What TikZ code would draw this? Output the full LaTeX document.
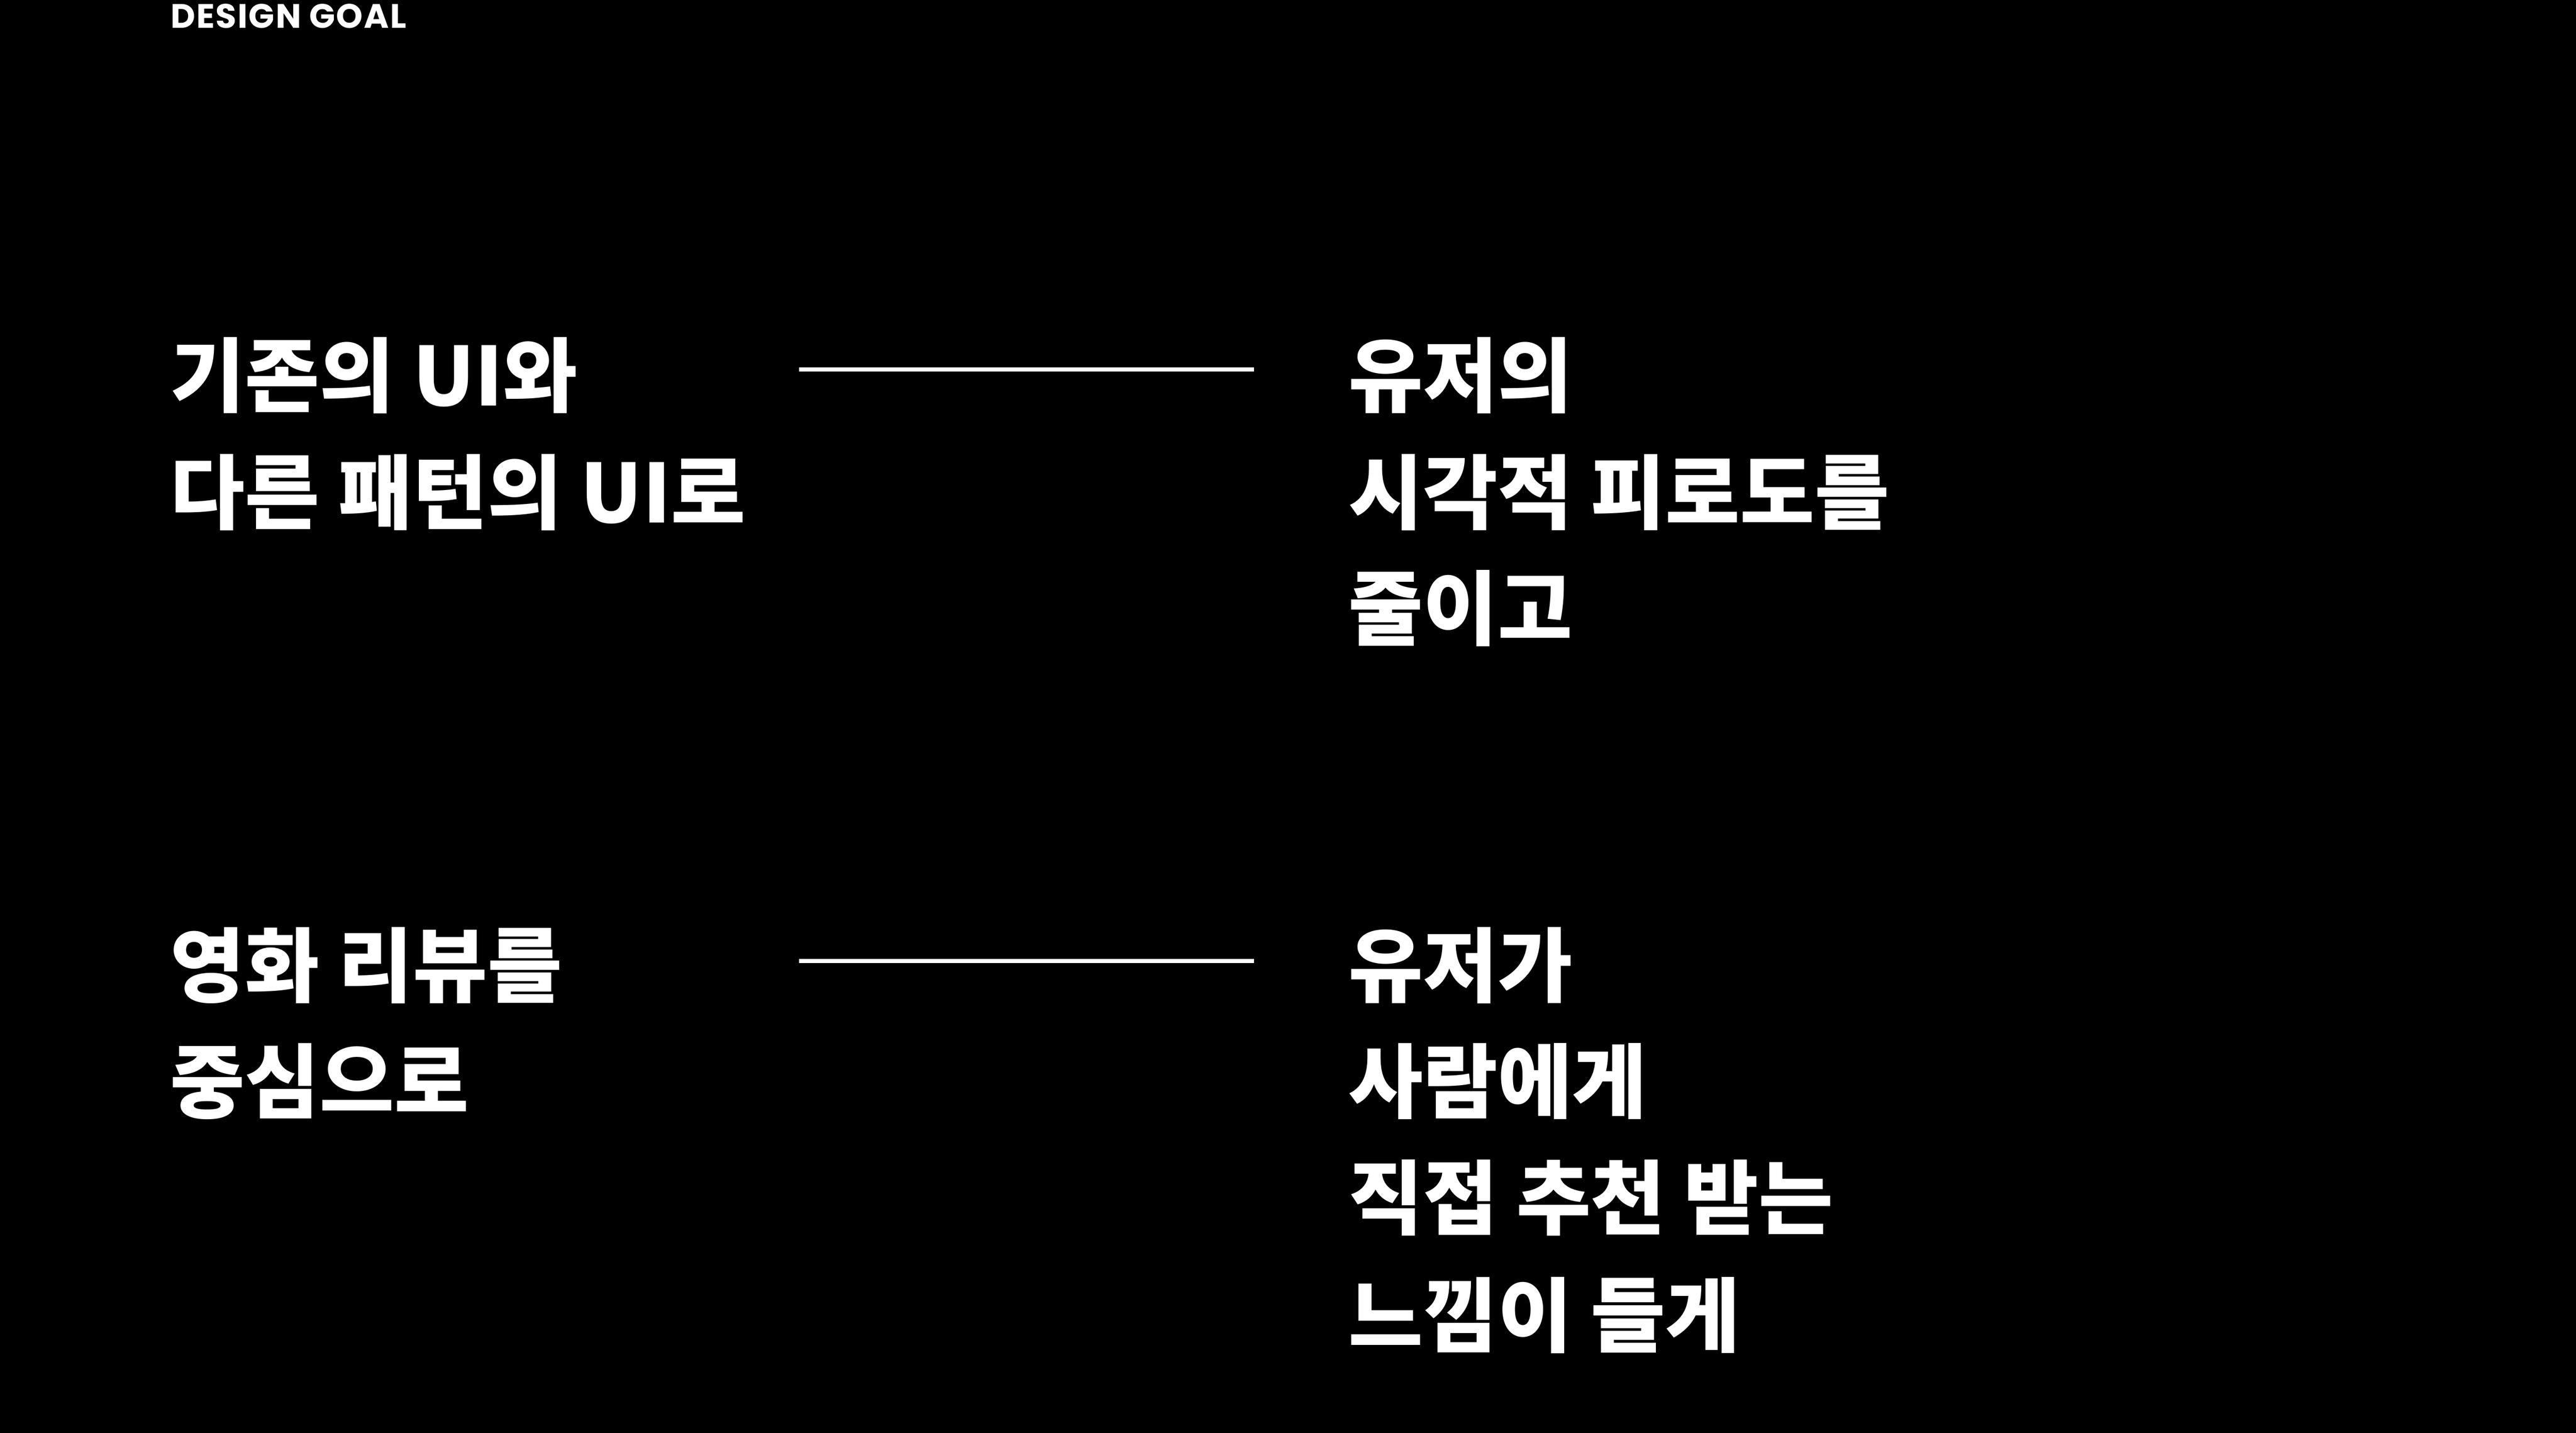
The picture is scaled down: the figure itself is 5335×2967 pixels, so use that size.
\documentclass[tikz,border=0pt]{standalone}
\usepackage{fontspec}
\newfontfamily\kr{Noto Sans CJK KR}
\newfontfamily\headfont{Poppins}[LetterSpace=3]
\usetikzlibrary{positioning}

\begin{document}
\begin{tikzpicture}[
        x=0.1mm, y=-0.1mm,
        title/.style={anchor=base west, inner sep=0pt, text=white, font=\headfont\bfseries\fontsize{20}{24}\selectfont},
        goal/.style={anchor=base west, inner sep=0pt, text=white, font=\kr\bfseries\fontsize{47.8}{68.6}\selectfont},
        link/.style={draw=white, line width=2.3pt}
    ]
        % Background and frame
        \fill[black] (0,0) rectangle (5335,2967);
        \useasboundingbox (0,0) rectangle (5335,2967);

        \node[title] (head) at (353,58) {DESIGN GOAL};

        % First goal
        \node[goal] (goalA1) at (352,840) {기존의 UI와};
        \node[goal] (goalA2) at (352,1082) {다른 패턴의 UI로};
        \node[goal] (aimA1) at (2792,840) {유저의};
        \node[goal] (aimA2) at (2792,1082) {시각적 피로도를};
        \node[goal] (aimA3) at (2792,1323) {줄이고};
        \coordinate (linkA1) at (1655,765);
        \coordinate (linkA2) at (2597,765);
        \draw[link] (linkA1) -- (linkA2);

        % Second goal
        \node[goal] (goalB1) at (352,2062) {영화 리뷰를};
        \node[goal] (goalB2) at (352,2302) {중심으로};
        \node[goal] (aimB1) at (2792,2062) {유저가};
        \node[goal] (aimB2) at (2792,2302) {사람에게};
        \node[goal] (aimB3) at (2792,2543) {직접 추천 받는};
        \node[goal] (aimB4) at (2792,2786) {느낌이 들게};
        \coordinate (linkB1) at (1655,1990);
        \coordinate (linkB2) at (2597,1990);
        \draw[link] (linkB1) -- (linkB2);

    \end{tikzpicture}
\end{document}
